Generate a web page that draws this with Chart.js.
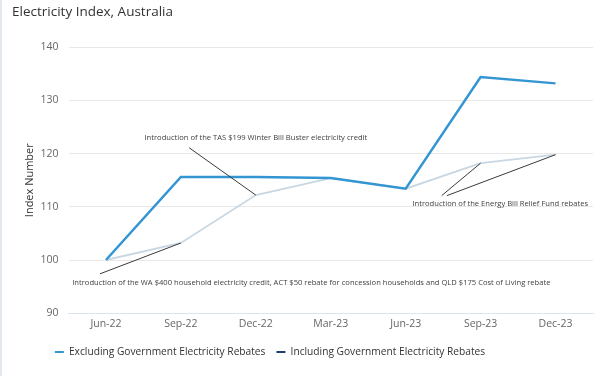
<!DOCTYPE html>
<html>
<head>
<meta charset="utf-8">
<script src="https://cdn.jsdelivr.net/npm/chart.js@4.4.1/dist/chart.umd.min.js"></script>
<style>
  html, body { margin: 0; padding: 0; background: #fff; }
  #wrap { width: 600px; height: 376px; border-left: 2px solid #e3e8ee; position: relative; }
</style>
</head>
<body>
<div id="wrap"><canvas id="chart"></canvas></div>
<script>
// quarters on the x axis
var quarters = ["Jun-22", "Sep-22", "Dec-22", "Mar-23", "Jun-23", "Sep-23", "Dec-23"];

// index values
var excludingRebates = [100, 115.6, 115.6, 115.4, 113.4, 134.4, 133.2];
var includingRebates = [100, 103.2, 112.2, 115.4, 113.4, 118.2, 119.8];

var seriesNames = ["Excluding Government Electricity Rebates", "Including Government Electricity Rebates"];
var yTicks = [90, 100, 110, 120, 130, 140];

// annotations: text anchor in (category index, value), leader lines to points of the "including" series
var notes = [
  {
    text: "Introduction of the WA $400 household electricity credit, ACT $50 rebate for concession households and QLD $175 Cost of Living rebate",
    at: [-0.45, 95.7], align: "left",
    leaders: [{ from: [-0.08, 97.4], to: 1 }]
  },
  {
    text: "Introduction of the TAS $199 Winter Bill Buster electricity credit",
    at: [2.0, 123.0], align: "center",
    leaders: [{ from: [1.11, 121.1], to: 2 }]
  },
  {
    text: "Introduction of the Energy Bill Relief Fund rebates",
    at: [4.09, 110.6], align: "left",
    leaders: [{ from: [4.48, 112.1], to: 5 }, { from: [4.55, 112.1], to: 6 }]
  }
];

var blue = "#3396d3";
var pale = "#c9d7e3";
var navy = "#1c3f6e";

var notePlugin = {
  id: "notes",
  afterLayout: function (chart) {
    // legend sits left of centre in the original
    chart.legend.right -= 65;
  },
  afterDatasetsDraw: function (chart) {
    var ctx = chart.ctx;
    var xs = chart.scales.x, ys = chart.scales.y;
    var px = function (i) { return xs.getPixelForValue(0) + i * (xs.getPixelForValue(1) - xs.getPixelForValue(0)); };
    ctx.save();
    ctx.strokeStyle = "#3a3a3a";
    ctx.lineWidth = 1;
    notes.forEach(function (n) {
      n.leaders.forEach(function (l) {
        ctx.beginPath();
        ctx.moveTo(px(l.from[0]), ys.getPixelForValue(l.from[1]));
        ctx.lineTo(xs.getPixelForValue(l.to), ys.getPixelForValue(includingRebates[l.to]));
        ctx.stroke();
      });
      ctx.fillStyle = "#404040";
      ctx.font = "7.6px 'Open Sans'";
      ctx.textAlign = n.align;
      ctx.textBaseline = "middle";
      ctx.fillText(n.text, px(n.at[0]), ys.getPixelForValue(n.at[1]));
    });
    ctx.restore();
  }
};

new Chart(document.getElementById("chart"), {
  type: "line",
  data: {
    labels: quarters,
    datasets: [
      { label: seriesNames[0], data: excludingRebates, borderColor: blue, backgroundColor: blue, borderWidth: 2.5, pointRadius: 0, tension: 0, order: 1 },
      { label: seriesNames[1], data: includingRebates, borderColor: pale, backgroundColor: navy, borderWidth: 1.8, pointRadius: 0, tension: 0, order: 2 }
    ]
  },
  plugins: [notePlugin],
  options: {
    responsive: true,
    maintainAspectRatio: false,
    animation: false,
    layout: { padding: { left: 10, right: 9, top: 0, bottom: 9 } },
    plugins: {
      title: {
        display: true,
        text: "Electricity Index, Australia",
        align: "start",
        color: "#333",
        font: { family: "'Open Sans'", size: 13.5, weight: "normal" },
        padding: { top: 4, bottom: 27 }
      },
      legend: {
        position: "bottom",
        labels: {
          usePointStyle: true,
          pointStyle: "line",
          pointStyleWidth: 9,
          boxHeight: 8,
          padding: 11,
          color: "#333",
          font: { family: "'Open Sans'", size: 10.2 },
          generateLabels: function (chart) {
            var cols = [blue, navy];
            return chart.data.datasets.map(function (d, i) {
              return { text: d.label, fillStyle: cols[i], strokeStyle: cols[i], lineWidth: 2, pointStyle: "line", hidden: false, datasetIndex: i, fontColor: "#333" };
            });
          }
        }
      },
      tooltip: { enabled: false }
    },
    scales: {
      x: {
        offset: true,
        grid: { display: false, drawTicks: false },
        border: { display: true, color: "#dbe4f0" },
        ticks: { color: "#666", padding: 5, font: { family: "'Open Sans'", size: 10.5 } }
      },
      y: {
        min: yTicks[0],
        max: yTicks[yTicks.length - 1],
        afterBuildTicks: function (scale) { scale.ticks = yTicks.map(function (v) { return { value: v }; }); },
        afterFit: function (scale) { scale.width = 56.5; },
        grid: { color: "#e8e8e8", drawTicks: false },
        border: { display: false },
        ticks: { color: "#666", padding: 10, font: { family: "'Open Sans'", size: 10.5 } },
        title: { display: true, text: "Index Number", color: "#333", font: { family: "'Open Sans'", size: 11 }, padding: { top: 11.4, bottom: 0 } }
      }
    }
  }
});
</script>
</body>
</html>
